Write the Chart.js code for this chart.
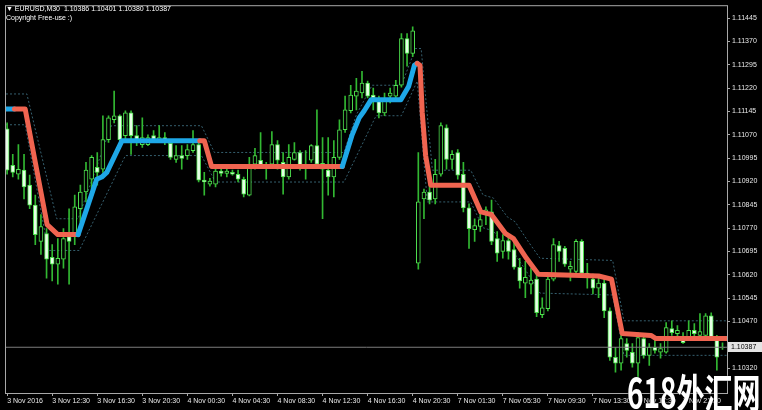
<!DOCTYPE html>
<html>
<head>
<meta charset="utf-8">
<script src="https://cdn.jsdelivr.net/npm/chart.js@4"></script>
<style>
  html, body { margin: 0; padding: 0; background: #000; }
  #wrap { position: relative; width: 762px; height: 410px; overflow: hidden; background: #000; }
  .hdr { position: absolute; left: 6px; color: #fff; font: 7px "Liberation Sans", Arial, sans-serif; white-space: pre; }
  #wm { position: absolute; left: 627px; top: 362px; color: #fff; font: bold 40px "Noto Sans CJK SC", sans-serif;
        transform: scaleX(0.7); transform-origin: left top; white-space: nowrap; text-shadow: 0 0 2px #000; }
</style>
</head>
<body>
<div id="wrap">
  <canvas id="chart" width="762" height="410"></canvas>
  <div class="hdr" style="top:5px">▼ EURUSD,M30  1.10386 1.10401 1.10380 1.10387</div>
  <div class="hdr" style="top:14px">Copyright Free-use :)</div>
  <div id="wm">618外汇网</div>
</div>
<script>
// EURUSD M30 candles, one entry per bar (bar 0 = 3 Nov 08:30)
const opens = [
  1.11089,1.10972,1.10943,1.10956,1.10908,1.10844,1.10727,1.10752,1.10676,1.10654,
  1.10670,1.10743,1.10749,1.10832,1.10886,1.10927,1.10965,1.10959,1.11054,1.11118,
  1.11131,1.11067,1.11140,1.11067,1.11038,1.11038,1.11067,1.11051,1.11061,1.11042,
  1.10991,1.11003,1.11003,1.11019,1.11038,1.10924,1.10911,1.10911,1.10953,1.10946,
  1.10949,1.10943,1.10927,1.10876,1.10975,1.10988,1.10965,1.10975,1.11038,1.10981,
  1.10934,1.10991,1.11013,1.10975,1.10988,1.11035,1.10959,1.10956,1.10934,1.10997,
  1.11086,1.11147,1.11194,1.11204,1.11236,1.11197,1.11182,1.11140,1.11194,1.11194,
  1.11229,1.11379,1.11331,1.10657,1.10864,1.10886,1.10864,1.10943,1.11092,1.10991,
  1.11013,1.10943,1.10835,1.10765,1.10775,1.10816,1.10822,1.10736,1.10695,1.10730,
  1.10701,1.10644,1.10593,1.10590,1.10606,1.10492,1.10511,1.10606,1.10714,1.10705,
  1.10638,1.10631,1.10727,1.10625,1.10606,1.10577,1.10593,1.10504,1.10355,1.10336,
  1.10399,1.10371,1.10336,1.10415,1.10361,1.10387,1.10371,1.10371,1.10447,1.10431,
  1.10415,1.10418,1.10441,1.10425,1.10425,1.10488,1.10415,1.10386
];
const highs = [
  1.11108,1.11007,1.11038,1.11007,1.10940,1.10876,1.10813,1.10768,1.10717,1.10736,
  1.10768,1.10832,1.10876,1.10908,1.10981,1.11003,1.11013,1.11131,1.11131,1.11210,
  1.11134,1.11147,1.11147,1.11099,1.11124,1.11070,1.11083,1.11099,1.11077,1.11051,
  1.11035,1.11035,1.11038,1.11083,1.11045,1.10949,1.10930,1.10959,1.10959,1.10959,
  1.10956,1.10956,1.10934,1.10997,1.11026,1.11077,1.10981,1.11080,1.11051,1.11013,
  1.11038,1.11045,1.11019,1.11019,1.11038,1.11150,1.11061,1.11061,1.11051,1.11118,
  1.11194,1.11229,1.11251,1.11274,1.11242,1.11220,1.11194,1.11204,1.11220,1.11245,
  1.11395,1.11395,1.11417,1.11013,1.10895,1.10908,1.10991,1.11108,1.11102,1.11019,
  1.11022,1.10981,1.10848,1.10800,1.10822,1.10838,1.10860,1.10759,1.10749,1.10749,
  1.10727,1.10673,1.10663,1.10641,1.10622,1.10546,1.10612,1.10736,1.10727,1.10711,
  1.10663,1.10733,1.10733,1.10657,1.10622,1.10609,1.10606,1.10514,1.10387,1.10425,
  1.10415,1.10399,1.10434,1.10425,1.10399,1.10409,1.10399,1.10466,1.10472,1.10457,
  1.10434,1.10472,1.10463,1.10495,1.10495,1.10498,1.10425,1.10401
];
const lows = [
  1.10943,1.10934,1.10927,1.10864,1.10832,1.10717,1.10685,1.10609,1.10600,1.10590,
  1.10641,1.10590,1.10717,1.10790,1.10854,1.10895,1.10908,1.10949,1.11045,1.11108,
  1.11051,1.11054,1.11007,1.11035,1.11029,1.11035,1.11045,1.11045,1.11038,1.10991,
  1.10981,1.10959,1.10991,1.11013,1.10918,1.10876,1.10905,1.10902,1.10937,1.10934,
  1.10940,1.10918,1.10870,1.10873,1.10959,1.10965,1.10927,1.10972,1.10959,1.10879,
  1.10927,1.10988,1.10956,1.10927,1.10981,1.10972,1.10800,1.10876,1.10870,1.10991,
  1.11077,1.11140,1.11150,1.11188,1.11188,1.11150,1.11124,1.11131,1.11172,1.11188,
  1.11223,1.11290,1.11321,1.10638,1.10800,1.10848,1.10848,1.10937,1.10959,1.10959,
  1.10927,1.10822,1.10705,1.10727,1.10759,1.10781,1.10717,1.10663,1.10673,1.10670,
  1.10638,1.10577,1.10546,1.10558,1.10485,1.10482,1.10504,1.10600,1.10663,1.10647,
  1.10600,1.10625,1.10622,1.10577,1.10558,1.10546,1.10482,1.10345,1.10307,1.10313,
  1.10355,1.10323,1.10291,1.10352,1.10329,1.10368,1.10352,1.10368,1.10425,1.10418,
  1.10399,1.10415,1.10418,1.10418,1.10418,1.10415,1.10313,1.10380
];
const closes = [
  1.10956,1.10949,1.10959,1.10902,1.10844,1.10749,1.10775,1.10670,1.10654,1.10673,
  1.10736,1.10727,1.10838,1.10886,1.10956,1.10997,1.10949,1.11054,1.11124,1.11131,
  1.11054,1.11140,1.11067,1.11045,1.11061,1.11061,1.11051,1.11061,1.11045,1.10997,
  1.11003,1.10994,1.11022,1.11038,1.10924,1.10918,1.10921,1.10953,1.10946,1.10953,
  1.10943,1.10927,1.10879,1.10975,1.11003,1.10972,1.10975,1.11038,1.10988,1.10934,
  1.10997,1.11013,1.10972,1.10962,1.11035,1.10975,1.10978,1.10934,1.10997,1.11086,
  1.11150,1.11197,1.11210,1.11236,1.11194,1.11188,1.11140,1.11182,1.11204,1.11229,
  1.11379,1.11331,1.11404,1.10854,1.10886,1.10860,1.10943,1.11099,1.10991,1.11007,
  1.10940,1.10835,1.10768,1.10778,1.10797,1.10829,1.10727,1.10689,1.10730,1.10695,
  1.10644,1.10600,1.10612,1.10603,1.10498,1.10514,1.10606,1.10717,1.10695,1.10654,
  1.10647,1.10727,1.10625,1.10612,1.10577,1.10593,1.10504,1.10355,1.10336,1.10415,
  1.10377,1.10336,1.10418,1.10361,1.10387,1.10377,1.10383,1.10450,1.10434,1.10441,
  1.10402,1.10441,1.10431,1.10437,1.10488,1.10418,1.10355,1.10387
];

// indicator line: bar position, price, trend of the segment that starts there
const maX = [-0.2, 1.3, 3.2, 7.1, 9.0, 12.6, 15.9, 16.8, 17.7, 20.4, 34.2, 35.0, 36.3, 59.5, 61.2, 62.5, 63.4, 64.6,
  69.9, 71.3, 72.3, 72.8, 73.3, 73.7, 74.3, 75.2, 82.0, 84.1, 86.0, 88.5, 89.9, 92.2, 94.3, 105.0, 107.3, 109.2,
  114.3, 115.2, 127.8];
const maY = [1.11153, 1.11153, 1.11153, 1.10781, 1.10749, 1.10749, 1.10927, 1.10934, 1.10949, 1.11051, 1.11051,
  1.11051, 1.10968, 1.10968, 1.11067, 1.11124, 1.11147, 1.11182, 1.11182, 1.11226, 1.11293, 1.11299, 1.11293,
  1.11140, 1.11003, 1.10908, 1.10908, 1.10822, 1.10813, 1.10752, 1.10736, 1.10673, 1.10622, 1.10616, 1.10606,
  1.10431, 1.10425, 1.10415, 1.10415];
const maTrend = ['up', 'down', 'down', 'down', 'down', 'up', 'up', 'up', 'up', 'up', 'down', 'down', 'down',
  'up', 'up', 'up', 'up', 'up', 'up', 'up', 'up', 'down', 'down', 'down', 'down', 'down', 'down', 'down', 'down',
  'down', 'down', 'down', 'down', 'down', 'down', 'down', 'down', 'down'];

// dotted channel
const upperX = [-0.2, 3.5, 8.8, 12.6, 18.5, 34.5, 36.8, 59.8, 62.0, 64.8, 70.0, 72.5, 73.5, 75.5, 82.3, 84.5, 86.3,
  88.8, 90.2, 92.5, 94.6, 107.5, 109.5, 127.8];
const upperY = [1.11201, 1.11201, 1.10800, 1.10800, 1.11099, 1.11099, 1.11013, 1.11013, 1.11134, 1.11229, 1.11229,
  1.11347, 1.11347, 1.10956, 1.10956, 1.10876, 1.10867, 1.10806, 1.10790, 1.10727, 1.10673, 1.10666, 1.10472, 1.10472];
const lowerX = [-0.2, 3.2, 7.3, 12.8, 21.0, 34.5, 37.0, 59.8, 65.5, 70.0, 72.8, 74.6, 82.3, 84.5, 86.3, 88.8, 90.2,
  92.5, 94.6, 107.5, 109.5, 127.8];
const lowerY = [1.11102, 1.11102, 1.10698, 1.10698, 1.11003, 1.11003, 1.10918, 1.10918, 1.11131, 1.11131, 1.11242,
  1.10854, 1.10854, 1.10771, 1.10761, 1.10701, 1.10685, 1.10622, 1.10561, 1.10555, 1.10361, 1.10361];

const bid = 1.10387;

const yTicks = [1.11445, 1.11370, 1.11295, 1.11220, 1.11145, 1.11070, 1.10995, 1.10920, 1.10845, 1.10770,
  1.10695, 1.10620, 1.10545, 1.10470, 1.10320];
const xTickPos = [0, 8, 16, 24, 32, 40, 48, 56, 64, 72, 80, 88, 96, 104, 112, 120];
const xLabels = ['3 Nov 2016', '3 Nov 12:30', '3 Nov 16:30', '3 Nov 20:30', '4 Nov 00:30', '4 Nov 04:30',
  '4 Nov 08:30', '4 Nov 12:30', '4 Nov 16:30', '4 Nov 20:30', '7 Nov 01:30', '7 Nov 05:30', '7 Nov 09:30',
  '7 Nov 13:30', '7 Nov 17:30', '7 Nov 21:30'];

const axisColor = '#a8a8a8';
const tickFont = { family: 'Liberation Sans', size: 7 };

const framePlugin = {
  id: 'frame',
  afterDraw(chart) {
    const c = chart.ctx;
    const { left, top, right, bottom } = chart.chartArea;
    c.save();
    c.strokeStyle = axisColor;
    c.lineWidth = 1;
    c.strokeRect(left - 0.5, top - 0.5, right - left + 1, bottom - top + 1);
    // current price box on the price scale
    const y = chart.scales.y.getPixelForValue(bid);
    c.fillStyle = '#e4e4e4';
    c.fillRect(right + 1, Math.round(y) - 5, 34, 10);
    c.fillStyle = '#000';
    c.font = '7px "Liberation Sans"';
    c.textBaseline = 'middle';
    c.fillText(bid.toFixed(5), right + 4, Math.round(y) + 0.5);
    c.restore();
  }
};

new Chart(document.getElementById('chart').getContext('2d'), {
  type: 'bar',
  data: {
    datasets: [
      {
        type: 'line', label: 'upper',
        data: upperX.map((x, i) => ({ x: x, y: upperY[i] })),
        borderColor: '#355f6e', borderWidth: 1, borderDash: [2, 2], pointRadius: 0, order: 5
      },
      {
        type: 'line', label: 'lower',
        data: lowerX.map((x, i) => ({ x: x, y: lowerY[i] })),
        borderColor: '#355f6e', borderWidth: 1, borderDash: [2, 2], pointRadius: 0, order: 5
      },
      {
        label: 'wicks',
        data: opens.map((o, i) => ({ x: i, y: [lows[i], highs[i]] })),
        backgroundColor: '#32b832', barThickness: 1, grouped: false, order: 4
      },
      {
        label: 'bodies',
        data: opens.map((o, i) => ({ x: i, y: [o, closes[i]] })),
        backgroundColor: opens.map((o, i) => closes[i] > o ? '#000000' : '#e6ffe6'),
        borderColor: '#4ee04e', borderWidth: 1, borderSkipped: false,
        barThickness: 4, grouped: false, order: 3
      },
      {
        type: 'line', label: 'bid',
        data: [{ x: -0.2, y: bid }, { x: 127.8, y: bid }],
        borderColor: '#7c7c7c', borderWidth: 1, pointRadius: 0, order: 2
      },
      {
        type: 'line', label: 'trend',
        data: maX.map((x, i) => ({ x: x, y: maY[i] })),
        borderColor: '#f06450', borderWidth: 5, borderCapStyle: 'round', borderJoinStyle: 'round',
        pointRadius: 0, order: 1,
        segment: { borderColor: c => maTrend[c.p0DataIndex] === 'up' ? '#1ea8e8' : '#f06450' }
      }
    ]
  },
  options: {
    responsive: false,
    animation: false,
    devicePixelRatio: 1,
    layout: { padding: { left: 6, top: 2, right: 0, bottom: 0 } },
    plugins: { legend: { display: false }, tooltip: { enabled: false } },
    scales: {
      x: {
        type: 'linear', min: -0.2, max: 127.8, offset: false,
        grid: { display: true, drawOnChartArea: false, drawTicks: true, tickLength: 3, color: axisColor, offset: false },
        border: { display: true, color: axisColor },
        ticks: {
          autoSkip: false, maxRotation: 0, align: 'start', color: '#e8e8e8', font: tickFont, padding: 1,
          callback: v => { const k = xTickPos.indexOf(v); return k < 0 ? '' : xLabels[k]; }
        },
        afterBuildTicks: s => { s.ticks = xTickPos.map(v => ({ value: v })); },
        afterFit: s => { s.height = 17; }
      },
      y: {
        type: 'linear', position: 'right', min: 1.10240, max: 1.11483,
        grid: { display: true, drawOnChartArea: false, drawTicks: true, tickLength: 3, color: axisColor },
        border: { display: true, color: axisColor },
        ticks: { autoSkip: false, color: '#e8e8e8', font: tickFont, padding: 2, callback: v => v.toFixed(5) },
        afterBuildTicks: s => { s.ticks = yTicks.map(v => ({ value: v })); },
        afterFit: s => { s.width = 35; }
      }
    }
  },
  plugins: [framePlugin]
});
</script>
</body>
</html>
